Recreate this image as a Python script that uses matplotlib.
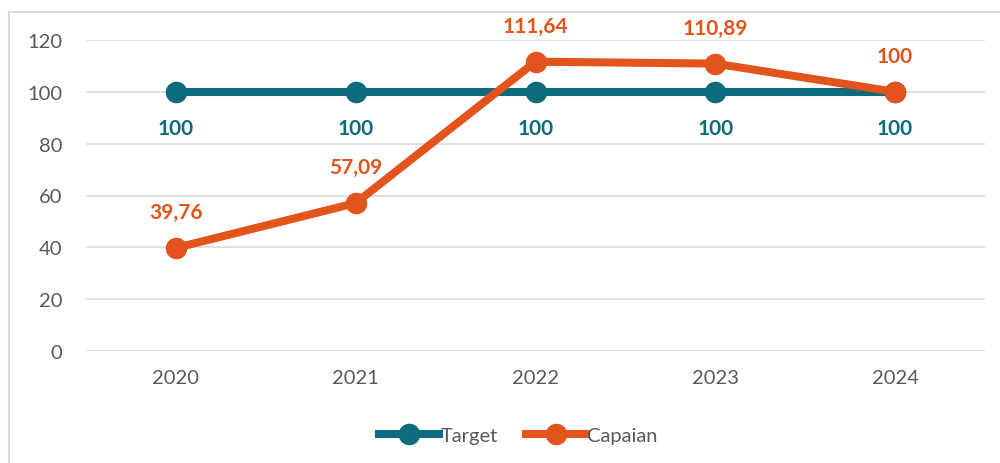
import matplotlib.pyplot as plt
from matplotlib.patches import Rectangle

years = ["2020", "2021", "2022", "2023", "2024"]
target = [100, 100, 100, 100, 100]
capaian = [39.76, 57.09, 111.64, 110.89, 100]
target_labels = ["100", "100", "100", "100", "100"]
capaian_labels = ["39,76", "57,09", "111,64", "110,89", "100"]

TEAL = "#0D6B7E"
ORANGE = "#E2541C"
GRAY = "#595959"

plt.rcParams["font.family"] = ["Lato", "DejaVu Sans"]

fig = plt.figure(figsize=(10, 4.64), dpi=100)
ax = fig.add_axes([0.086, 1 - 352 / 464, 0.899, (352 - 41) / 464])

x = list(range(len(years)))
ax.plot(x, target, color=TEAL, lw=5.8, marker="o", ms=14.5,
        label="Target", clip_on=False, zorder=3)
ax.plot(x, capaian, color=ORANGE, lw=5.8, marker="o", ms=14.5,
        label="Capaian", clip_on=False, zorder=4)

for xi, v, s in zip(x, target, target_labels):
    ax.annotate(s, (xi, v), xytext=(0, -26), textcoords="offset points",
                ha="center", va="center", fontsize=15, fontweight="bold",
                color=TEAL)
for xi, v, s in zip(x, capaian, capaian_labels):
    ax.annotate(s, (xi, v), xytext=(0, 26), textcoords="offset points",
                ha="center", va="center", fontsize=15, fontweight="bold",
                color=ORANGE)

ax.set_xlim(-0.5, 4.5)
ax.set_ylim(0, 120)
ax.set_yticks(range(0, 121, 20))
ax.set_xticks(x)
ax.set_xticklabels(years)
ax.tick_params(axis="both", length=0, labelsize=14.5, labelcolor=GRAY)
ax.tick_params(axis="y", pad=17)
ax.tick_params(axis="x", pad=13)
ax.grid(axis="y", color="#D9D9D9", lw=1.2)
ax.set_axisbelow(True)
for sp in ax.spines.values():
    sp.set_visible(False)

ax.legend(loc="center", bbox_to_anchor=(0.481, (1 - 436 / 464 - 0.2414) / 0.6703),
          bbox_transform=ax.transAxes, ncol=2, frameon=False, fontsize=14.5,
          labelcolor=GRAY, handlelength=3.0, handletextpad=0.05,
          columnspacing=1.4)

fig.patches.append(Rectangle((9 / 1000, -0.05), 1.2, 1 - 13 / 464 + 0.05,
                             transform=fig.transFigure, fill=False,
                             edgecolor="#D9D9D9", lw=1.5))

fig.savefig("out.png", dpi=100)
